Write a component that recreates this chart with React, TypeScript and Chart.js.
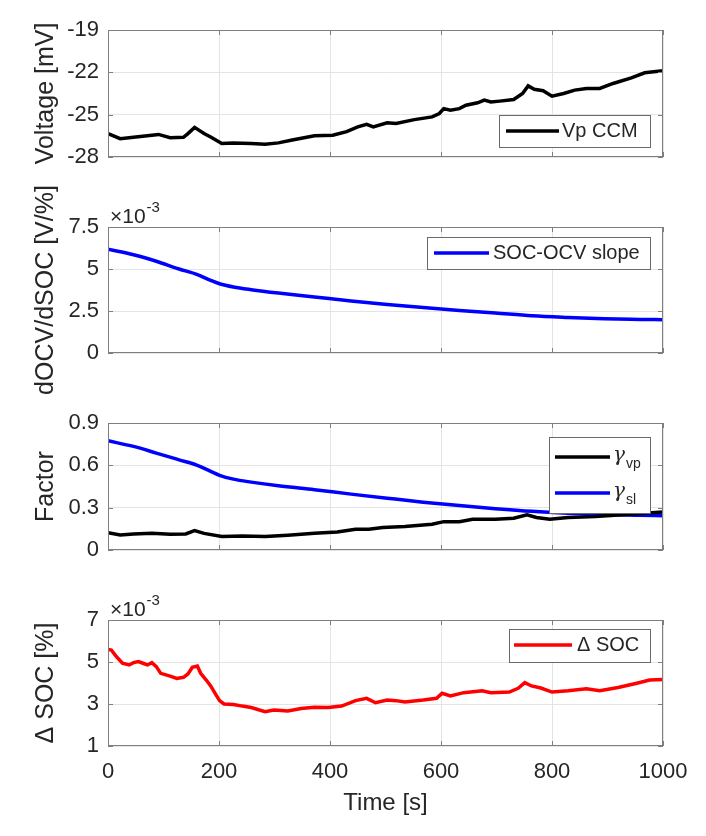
import { useEffect, useRef } from "react";
import { Chart, registerables } from "chart.js";

Chart.register(...registerables);

const W = 706;
const H = 836;
const PLOT_LEFT = 108;
const PLOT_RIGHT = 663;
const FONT = "'Liberation Sans', Arial, Helvetica, sans-serif";
const INK = "#262626";
const AXIS = "#7f7f7f";
const GRID = "#e4e4e4";

// --- data ---
const timeTicks = [0, 200, 400, 600, 800, 1000];

const vpTime = [0, 22, 46, 79, 91, 112, 136, 144, 156, 173, 185, 205, 226, 258, 283, 307, 332, 372, 405, 430, 450, 466, 478, 503, 519, 552, 584, 597, 605, 617, 633, 645, 666, 678, 690, 706, 731, 747, 757, 768, 784, 800, 821, 841, 862, 886, 910, 943, 967, 1000];
const vpMv = [-26.34, -26.7, -26.6, -26.46, -26.4, -26.63, -26.6, -26.34, -25.9, -26.34, -26.58, -27.05, -27.0, -27.05, -27.1, -27.0, -26.8, -26.5, -26.46, -26.2, -25.87, -25.68, -25.87, -25.58, -25.63, -25.35, -25.16, -24.92, -24.57, -24.68, -24.57, -24.33, -24.16, -23.97, -24.1, -24.04, -23.93, -23.5, -22.96, -23.2, -23.3, -23.69, -23.5, -23.26, -23.14, -23.14, -22.79, -22.39, -22.03, -21.89];

const slopeTime = [0, 46, 87, 128, 161, 185, 201, 226, 258, 307, 372, 438, 503, 568, 633, 698, 764, 829, 894, 959, 1000];
const slopeE3 = [6.18, 5.85, 5.46, 5.0, 4.67, 4.32, 4.12, 3.93, 3.77, 3.57, 3.34, 3.1, 2.89, 2.71, 2.53, 2.38, 2.22, 2.12, 2.04, 2.0, 1.98];

const gammaSlTime = [0, 46, 87, 128, 161, 185, 201, 226, 258, 307, 372, 438, 503, 568, 633, 698, 764, 829, 894, 959, 1000];
const gammaSl = [0.774, 0.734, 0.687, 0.639, 0.6, 0.557, 0.529, 0.502, 0.481, 0.455, 0.427, 0.396, 0.367, 0.339, 0.315, 0.293, 0.274, 0.261, 0.252, 0.246, 0.243];

const gammaVpTime = [0, 22, 46, 79, 112, 140, 156, 173, 205, 242, 283, 324, 372, 413, 446, 470, 495, 535, 584, 605, 633, 657, 698, 731, 755, 772, 796, 829, 878, 927, 959, 1000];
const gammaVp = [0.123, 0.107, 0.114, 0.118, 0.111, 0.114, 0.137, 0.118, 0.095, 0.1, 0.095, 0.104, 0.118, 0.128, 0.147, 0.147, 0.159, 0.166, 0.182, 0.201, 0.201, 0.218, 0.218, 0.225, 0.249, 0.23, 0.218, 0.23, 0.237, 0.249, 0.258, 0.27];

const dSocTime = [0, 6, 14, 26, 38, 46, 55, 63, 71, 79, 87, 95, 112, 124, 136, 144, 152, 161, 167, 177, 185, 193, 201, 209, 226, 242, 258, 283, 299, 324, 348, 372, 397, 421, 446, 466, 482, 503, 519, 535, 568, 592, 602, 617, 641, 674, 690, 723, 739, 751, 763, 780, 800, 829, 862, 886, 919, 951, 976, 1000];
const dSocE3 = [5.6, 5.57, 5.29, 4.94, 4.86, 4.97, 5.02, 4.94, 4.86, 4.97, 4.78, 4.46, 4.33, 4.22, 4.27, 4.43, 4.75, 4.81, 4.46, 4.14, 3.86, 3.51, 3.16, 3.0, 2.98, 2.9, 2.83, 2.63, 2.71, 2.67, 2.79, 2.84, 2.83, 2.9, 3.16, 3.27, 3.06, 3.19, 3.16, 3.1, 3.19, 3.27, 3.51, 3.38, 3.54, 3.63, 3.54, 3.57, 3.75, 4.02, 3.86, 3.76, 3.57, 3.63, 3.73, 3.63, 3.79, 3.98, 4.14, 4.17];

type Entry = { label: string; sub?: string; color: string; y: number };
type LegendBox = { x1: number; y1: number; x2: number; y2: number; lineX1: number; lineX2: number; textX: number; entries: Entry[] };
type Series = { x: number[]; y: number[]; color: string; smooth?: boolean };
type Panel = {
  top: number;
  bottom: number;
  yMin: number;
  yMax: number;
  yStep: number;
  yTitle: string;
  exponent?: boolean;
  xLabels?: boolean;
  series: Series[];
  legend: LegendBox;
};

const panels: Panel[] = [
  {
    top: 30, bottom: 157, yMin: -28, yMax: -19, yStep: 3, yTitle: "Voltage [mV]",
    series: [{ x: vpTime, y: vpMv, color: "#000000" }],
    legend: { x1: 499, y1: 115, x2: 650, y2: 147, lineX1: 506, lineX2: 559, textX: 562, entries: [{ label: "Vp CCM", color: "#000000", y: 131 }] },
  },
  {
    top: 227, bottom: 353, yMin: 0, yMax: 7.5, yStep: 2.5, yTitle: "dOCV/dSOC [V/%]", exponent: true,
    series: [{ x: slopeTime, y: slopeE3, color: "#0000ff", smooth: true }],
    legend: { x1: 427, y1: 237, x2: 650, y2: 269, lineX1: 434, lineX2: 489, textX: 493, entries: [{ label: "SOC-OCV slope", color: "#0000ff", y: 253 }] },
  },
  {
    top: 423, bottom: 550, yMin: 0, yMax: 0.9, yStep: 0.3, yTitle: "Factor",
    series: [
      { x: gammaVpTime, y: gammaVp, color: "#000000" },
      { x: gammaSlTime, y: gammaSl, color: "#0000ff", smooth: true },
    ],
    legend: {
      x1: 549, y1: 437, x2: 650, y2: 513, lineX1: 555, lineX2: 610, textX: 613,
      entries: [
        { label: "γ", sub: "vp", color: "#000000", y: 457 },
        { label: "γ", sub: "sl", color: "#0000ff", y: 493 },
      ],
    },
  },
  {
    top: 620, bottom: 746, yMin: 1, yMax: 7, yStep: 2, yTitle: "Δ SOC [%]", exponent: true, xLabels: true,
    series: [{ x: dSocTime, y: dSocE3, color: "#ff0000" }],
    legend: { x1: 509, y1: 629, x2: 650, y2: 662, lineX1: 514, lineX2: 572, textX: 577, entries: [{ label: "Δ SOC", color: "#ff0000", y: 645 }] },
  },
];

// box, inward ticks, legend and the x10^-3 multiplier, MATLAB style
const decor = {
  id: "matlabDecor",
  afterDatasetsDraw(chart: Chart, _args: unknown, opts: { panel: Panel }) {
    const { ctx, chartArea: a, scales } = chart;
    const p = opts.panel;
    ctx.save();

    ctx.strokeStyle = AXIS;
    ctx.lineWidth = 1;
    ctx.beginPath();
    for (const t of scales.x.ticks) {
      const px = Math.round(scales.x.getPixelForValue(t.value)) + 0.5;
      ctx.moveTo(px, a.bottom);
      ctx.lineTo(px, a.bottom - 5);
      ctx.moveTo(px, a.top);
      ctx.lineTo(px, a.top + 5);
    }
    for (const t of scales.y.ticks) {
      const py = Math.round(scales.y.getPixelForValue(t.value)) + 0.5;
      ctx.moveTo(a.left, py);
      ctx.lineTo(a.left + 5, py);
      ctx.moveTo(a.right, py);
      ctx.lineTo(a.right - 5, py);
    }
    ctx.stroke();
    ctx.strokeRect(a.left + 0.5, a.top + 0.5, a.right - a.left - 1, a.bottom - a.top - 1);

    // legend
    const lg = p.legend;
    ctx.fillStyle = "#ffffff";
    ctx.fillRect(lg.x1, lg.y1, lg.x2 - lg.x1, lg.y2 - lg.y1);
    ctx.strokeStyle = "#6a6a6a";
    ctx.strokeRect(lg.x1 + 0.5, lg.y1 + 0.5, lg.x2 - lg.x1, lg.y2 - lg.y1);
    ctx.textBaseline = "middle";
    ctx.textAlign = "left";
    for (const e of lg.entries) {
      ctx.strokeStyle = e.color;
      ctx.lineWidth = 3.5;
      ctx.beginPath();
      ctx.moveTo(lg.lineX1, e.y);
      ctx.lineTo(lg.lineX2, e.y);
      ctx.stroke();
      ctx.fillStyle = INK;
      if (e.sub) {
        ctx.font = `italic 20px 'DejaVu Serif', serif`;
        ctx.fillText(e.label, lg.textX, e.y - 1);
        const w = ctx.measureText(e.label).width;
        ctx.font = `14px ${FONT}`;
        ctx.fillText(e.sub, lg.textX + w + 1, e.y + 7);
      } else {
        ctx.font = `20px ${FONT}`;
        ctx.fillText(e.label, lg.textX, e.y);
      }
    }

    if (p.exponent) {
      ctx.fillStyle = INK;
      ctx.font = `21px ${FONT}`;
      ctx.fillText("×10", a.left + 2, a.top - 10);
      const w = ctx.measureText("×10").width;
      ctx.font = `15px ${FONT}`;
      ctx.fillText("-3", a.left + 2 + w + 1, a.top - 19);
    }
    ctx.restore();
  },
};

function makeChart(canvas: HTMLCanvasElement, p: Panel) {
  return new Chart(canvas, {
    type: "line",
    data: {
      datasets: p.series.map((s) => ({
        data: s.x.map((x, i) => ({ x, y: s.y[i] })),
        borderColor: s.color,
        borderWidth: 3.5,
        pointRadius: 0,
        tension: 0,
        cubicInterpolationMode: s.smooth ? "monotone" : "default",
        fill: false,
      })),
    },
    options: {
      animation: false,
      responsive: false,
      events: [],
      layout: {
        padding: { top: p.top, right: W - PLOT_RIGHT, bottom: p.xLabels ? 0 : H - p.bottom, left: 0 },
      },
      plugins: {
        legend: { display: false },
        tooltip: { enabled: false },
        // @ts-ignore custom plugin options
        matlabDecor: { panel: p },
      },
      scales: {
        x: {
          type: "linear",
          min: timeTicks[0],
          max: timeTicks[timeTicks.length - 1],
          afterBuildTicks: (s: any) => {
            s.ticks = timeTicks.map((v) => ({ value: v }));
          },
          ticks: {
            display: !!p.xLabels,
            color: INK,
            font: { size: 22, family: FONT },
            padding: 13,
            maxRotation: 0,
            autoSkip: false,
            callback: (v: any) => String(v),
          },
          grid: { color: GRID, drawTicks: false },
          border: { display: false },
          title: {
            display: !!p.xLabels,
            text: "Time [s]",
            color: INK,
            font: { size: 24, family: FONT },
            padding: { top: 0, bottom: 18 },
          },
          afterFit: (s: any) => {
            s.height = p.xLabels ? H - p.bottom : 0;
          },
        },
        y: {
          type: "linear",
          min: p.yMin,
          max: p.yMax,
          ticks: {
            stepSize: p.yStep,
            color: INK,
            font: { size: 22, family: FONT },
            padding: 9,
          },
          grid: { color: GRID, drawTicks: false },
          border: { display: false },
          title: {
            display: true,
            text: p.yTitle,
            color: INK,
            font: { size: 25, family: FONT },
            padding: { top: 31, bottom: 0 },
          },
          afterFit: (s: any) => {
            s.width = PLOT_LEFT;
          },
        },
      },
    },
    plugins: [decor as any],
  });
}

export default function App() {
  const refs = useRef<(HTMLCanvasElement | null)[]>([]);

  useEffect(() => {
    const charts = panels.map((p, i) => makeChart(refs.current[i]!, p));
    return () => charts.forEach((c) => c.destroy());
  }, []);

  return (
    <div style={{ position: "absolute", left: 0, top: 0, width: W, height: H, background: "#ffffff" }}>
      {panels.map((p, i) => (
        <canvas
          key={p.yTitle}
          ref={(el) => {
            refs.current[i] = el;
          }}
          width={W}
          height={H}
          style={{ position: "absolute", left: 0, top: 0, width: W, height: H }}
        />
      ))}
    </div>
  );
}
